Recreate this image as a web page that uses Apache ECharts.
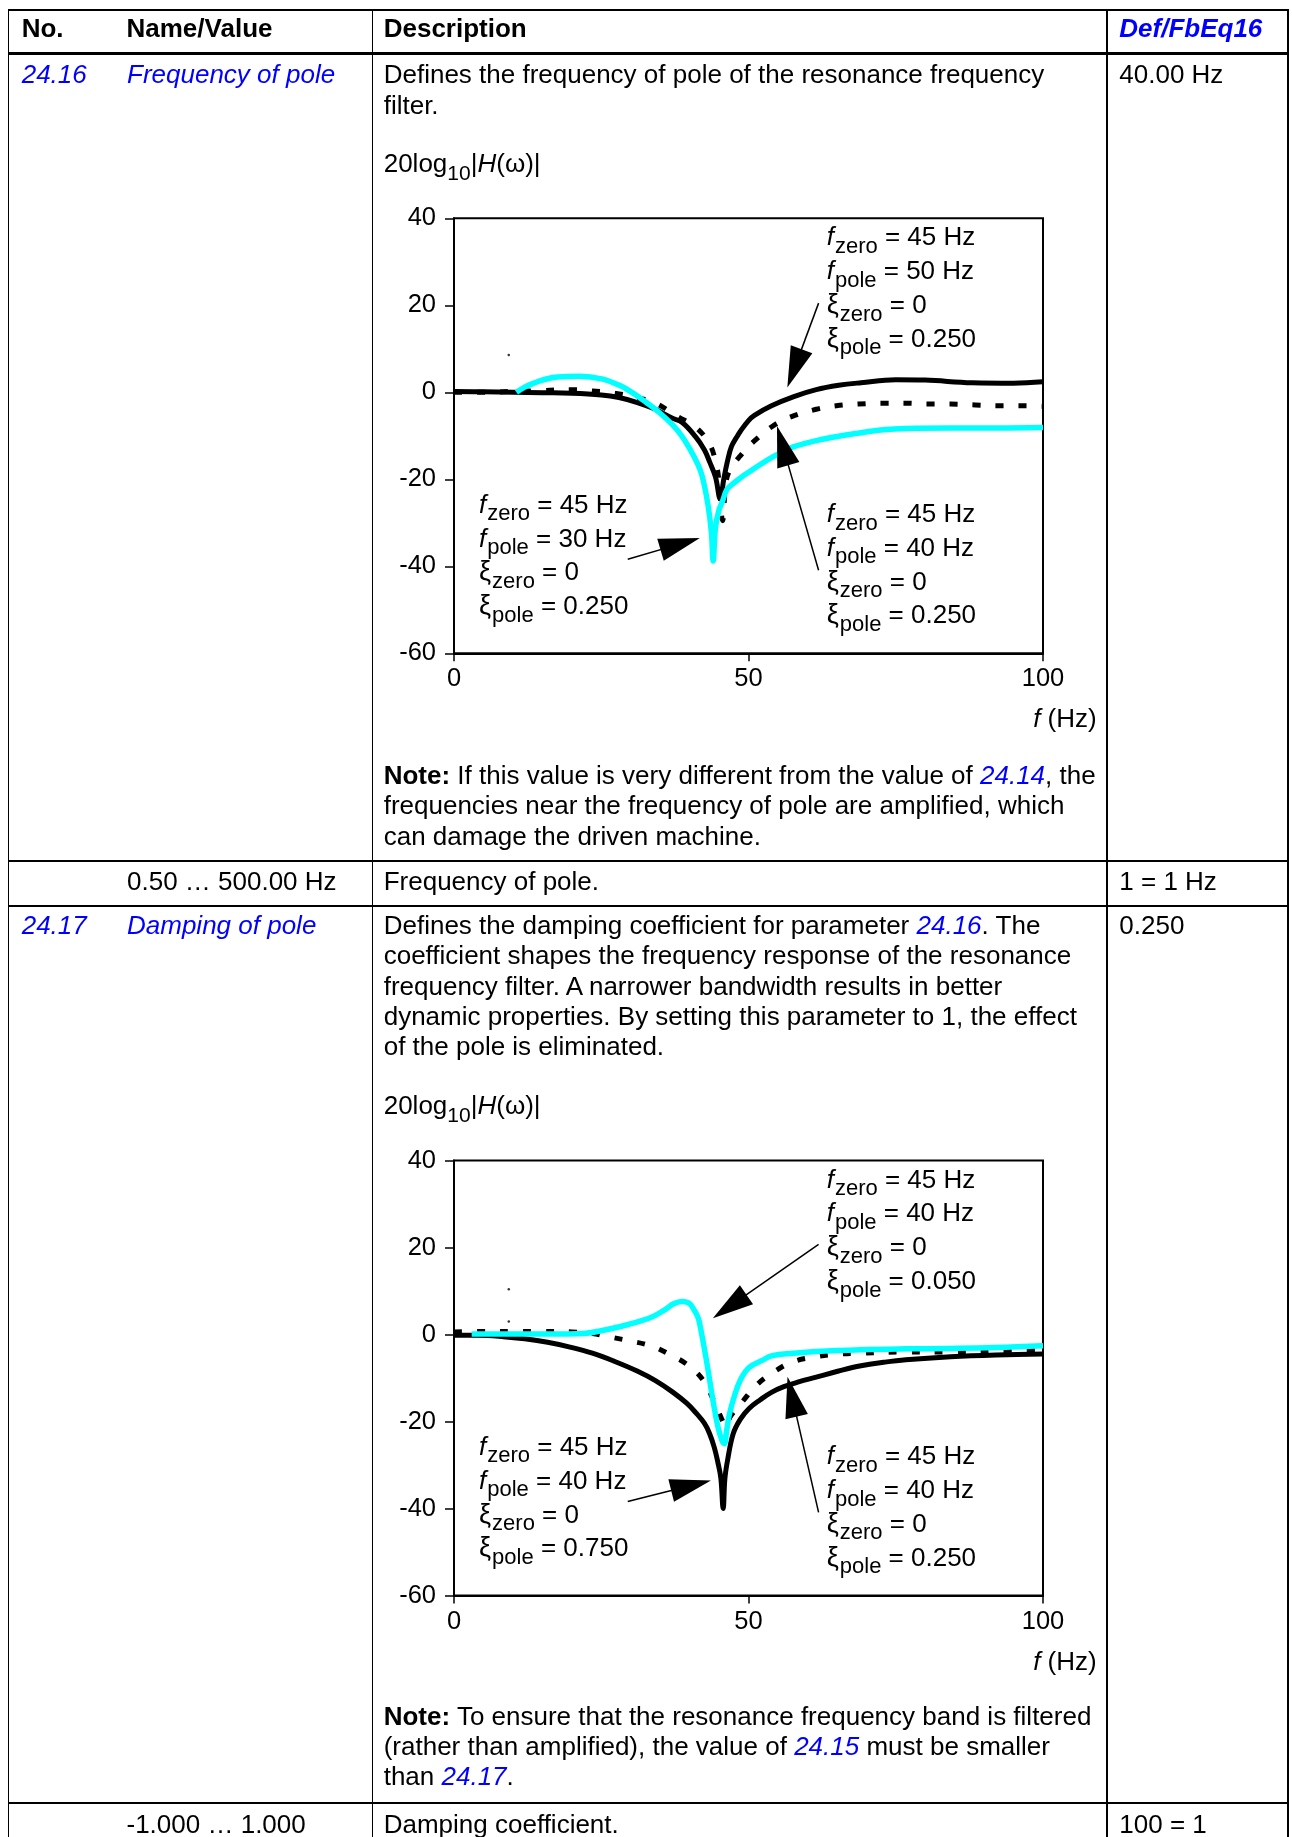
<!DOCTYPE html>
<html>
<head>
<meta charset="utf-8">
<script src="https://cdn.jsdelivr.net/npm/echarts@6/dist/echarts.min.js"></script>
<style>
  html, body { margin: 0; padding: 0; background: #fff; }
  #page { position: relative; width: 1292px; height: 1837px; overflow: hidden;
          font-family: "Liberation Sans", Arial, sans-serif; color: #000; }
  #chart { position: absolute; left: 0; top: 0; width: 1292px; height: 1837px; }
  .ln { position: absolute; white-space: nowrap; font-size: 26px; line-height: 30px; z-index: 2; }
  .rule { position: absolute; background: #000; z-index: 3; }
  .lk { color: #0000ff; font-style: italic; }
  .xi { font-size: 27px; }
  sub { font-size: 21px; line-height: 0; vertical-align: -7.5px; }
  .an sub { font-size: 22px; padding-left: 1px; }
</style>
</head>
<body>
<div id="page"><div id="chart"></div></div>
<script>
// ---- chart 1 : f_zero = 45 Hz, different pole frequencies (x = Hz, y = dB)
const pole50 = [[0,0.2],[5,0.1],[10,0],[15,-0.1],[20,-0.2],[25,-0.6],[28,-1.2],[31,-2.3],[34,-3.8],
  [37,-5.9],[38.7,-6.9],[41,-10.2],[42.5,-13.2],[43.4,-16],[44.4,-19.5],[45.2,-24.5],[45.8,-20],
  [46.4,-16],[47.1,-12.5],[48,-10.3],[48.6,-9],[50,-6.5],[51,-5.3],[53.9,-3.1],[57.7,-1.0],
  [61.5,0.6],[65.3,1.6],[69.1,2.2],[75,2.9],[80,2.8],[88,2.2],[95,2.1],[100,2.4]];
const pole40 = [[0,0],[5,0],[10,0.2],[15,0.4],[20,0.6],[23.5,0.3],[27.3,-0.2],[31,-1.2],[34.2,-2.5],
  [38,-5.6],[41,-8],[43.3,-11.7],[44.4,-15.8],[45,-20.5],[45.6,-29.5],[46.2,-20.5],[47,-17.5],
  [48.6,-14.6],[50.9,-11.3],[54.3,-7.6],[57.3,-5.6],[61.5,-3.9],[64.9,-3.1],[68.7,-2.7],
  [72.9,-2.5],[76.7,-2.5],[80.5,-2.7],[84.3,-2.7],[88.5,-2.9],[92.3,-3.1],[96,-3.1],[100,-3.2]];
const pole30 = [[10.6,0],[12,1.2],[13.7,2.2],[15.5,3.0],[17.5,3.5],[21.3,3.7],[25.1,3.1],[28.1,1.6],
  [30.4,-0.2],[32.6,-2.3],[34.9,-4.7],[37.2,-7.6],[38.7,-10.1],[40.2,-13.4],[41.2,-16],[42.1,-19.1],
  [43.1,-25.7],[43.7,-32.2],[44.0,-38.8],[44.4,-31],[45.0,-27],[45.6,-25],[46.3,-22.4],[47.1,-21.3],
  [48.5,-19.8],[50.1,-18.3],[52,-16.6],[53.9,-15],[55.8,-13.7],[57.7,-12.5],[61.5,-11.1],
  [65.3,-10.1],[69.1,-9.3],[72.9,-8.6],[76.7,-8.3],[84.3,-8.2],[92,-8.2],[100,-8.1]];
const specks1 = [[9.3,8.6]];
const arrows1 = [
  { tail: [61.9, 20.5], head: [57.8, 5.5] },
  { tail: [29.5, -38.4], head: [38.4, -34.85] },
  { tail: [61.9, -40.9], head: [55.8, -12.25] }
];

// ---- chart 2 : f_zero = 45 Hz, f_pole = 40 Hz, different pole damping
const damp075 = [[0,-0.2],[4,-0.2],[8.4,-0.5],[12,-1.0],[15.9,-1.8],[19.7,-2.9],[23.5,-4.3],[27.3,-6.2],
  [31.1,-8.4],[34.2,-10.6],[37.2,-13.3],[39.5,-15.8],[41,-17.9],[42.5,-20.4],[43.4,-22.8],[44.2,-26],
  [44.8,-29.4],[45.3,-33],[45.7,-40],[46.0,-33],[46.5,-28.5],[47.4,-22.8],[48.6,-19.5],[50.1,-17],
  [52,-15],[53.9,-13.3],[56,-12],[58.5,-10.9],[61.5,-9.8],[65.3,-8.4],[69.1,-7.2],[72.9,-6.4],
  [76.7,-5.8],[84.3,-5.1],[92,-4.7],[100,-4.5]];
const damp025 = [[0,0.6],[5,0.7],[10,0.7],[15,0.7],[20,0.6],[23.5,0.2],[25.8,-0.4],[29.6,-1.4],
  [33.4,-2.6],[36.5,-4.5],[39.9,-7.2],[42.5,-10.9],[44.4,-16.2],[45.6,-19.9],[46,-21.2],[47,-18.7],
  [49,-15.4],[51.3,-11.7],[54.3,-8.6],[57.7,-6.2],[61.5,-5.1],[65.3,-4.5],[69.1,-4.3],[76.7,-4.0],
  [84.3,-4.0],[92,-3.7],[100,-3.4]];
const damp005 = [[3,0.1],[8.4,0.1],[15.9,0.1],[22,0.25],[25.8,1.1],[29.6,2.3],[33.4,3.9],[35.7,5.6],
  [37.2,7.0],[38.7,7.6],[39.9,7.2],[40.6,6.0],[41.4,4.0],[41.8,1.9],[42.9,-6.3],[44,-15.4],
  [44.8,-21.2],[45.5,-24.4],[45.9,-25.1],[46.3,-22],[46.7,-18.7],[47.5,-14.6],[48.6,-10.5],
  [50.1,-7.6],[52.4,-5.9],[53.9,-4.9],[57.7,-4.3],[61.5,-3.9],[69.1,-3.5],[76.7,-3.3],
  [84.3,-3.2],[92,-3.0],[100,-2.6]];
const specks2 = [[9.3,10.4],[9.3,3.0]];
const arrows2 = [
  { tail: [61.9, 20.7], head: [46.8, 6.45] },
  { tail: [29.5, -38.4], head: [40.25, -34.7] },
  { tail: [61.9, -40.9], head: [57.4, -14.3] }
];

const xRange = [0, 100, 50];
const yRange = [-60, 40, 20];

// ---- page text ----------------------------------------------------------
const FONT = 'Liberation Sans';
const page = document.getElementById('page');
const BASE = 24.0;       // line box top -> baseline (26px font, 30px line)
const DY = 942.2;        // vertical offset of chart 2 block against chart 1

function addLine(x, baseline, html, right, cls) {
  const d = document.createElement('div');
  d.className = 'ln' + (cls ? ' ' + cls : '');
  d.innerHTML = html;
  d.style.top = (baseline - BASE) + 'px';
  if (right) d.style.right = (1292 - x) + 'px';
  else d.style.left = x + 'px';
  page.appendChild(d);
}
function rule(x, y, w, h) {
  const d = document.createElement('div');
  d.className = 'rule';
  d.style.left = x + 'px'; d.style.top = y + 'px';
  d.style.width = w + 'px'; d.style.height = h + 'px';
  page.appendChild(d);
}
const lk = t => '<span class="lk">' + t + '</span>';

// table rules
rule(7.5, 9, 1281, 2);
rule(7.5, 52, 1281, 2.5);
rule(7.5, 859.8, 1281, 2);
rule(7.5, 905, 1281, 2);
rule(7.5, 1801.8, 1281, 2);
[7.5, 371.5, 1106.2, 1287].forEach(x => rule(x, 9, 1.7, 1830));

// header
addLine(21.7, 37.3, '<b>No.</b>');
addLine(126.5, 37.3, '<b>Name/Value</b>');
addLine(383.7, 37.3, '<b>Description</b>');
addLine(1119.3, 37.3, '<b class="lk">Def/FbEq16</b>');

// 24.16
addLine(21.7, 83.3, lk('24.16'));
addLine(127, 83.3, lk('Frequency of pole'));
addLine(1119.3, 83.3, '40.00 Hz');
addLine(383.7, 83.3, 'Defines the frequency of pole of the resonance frequency');
addLine(383.7, 113.7, 'filter.');
addLine(383.7, 784, '<b>Note:</b> If this value is very different from the value of ' + lk('24.14') + ', the');
addLine(383.7, 814.3, 'frequencies near the frequency of pole are amplified, which');
addLine(383.7, 844.6, 'can damage the driven machine.');

addLine(127, 889.5, '0.50 … 500.00 Hz');
addLine(383.7, 889.5, 'Frequency of pole.');
addLine(1119.3, 889.5, '1 = 1 Hz');

// 24.17
addLine(21.7, 934, lk('24.17'));
addLine(127, 934, lk('Damping of pole'));
addLine(1119.3, 934, '0.250');
addLine(383.7, 934, 'Defines the damping coefficient for parameter ' + lk('24.16') + '. The');
addLine(383.7, 964.3, 'coefficient shapes the frequency response of the resonance');
addLine(383.7, 994.6, 'frequency filter. A narrower bandwidth results in better');
addLine(383.7, 1024.9, 'dynamic properties. By setting this parameter to 1, the effect');
addLine(383.7, 1055.2, 'of the pole is eliminated.');
addLine(383.7, 1724.5, '<b>Note:</b> To ensure that the resonance frequency band is filtered');
addLine(383.7, 1754.8, '(rather than amplified), the value of ' + lk('24.15') + ' must be smaller');
addLine(383.7, 1785.1, 'than ' + lk('24.17') + '.');

addLine(126.5, 1832.7, '-1.000 … 1.000');
addLine(383.7, 1832.7, 'Damping coefficient.');
addLine(1119.3, 1832.7, '100 = 1');

// chart captions and annotations
const fz = v => '<i>f</i><sub>zero</sub> = ' + v;
const fp = v => '<i>f</i><sub>pole</sub> = ' + v;
const xz = v => '<span class="xi">ξ</span><sub>zero</sub> = ' + v;
const xp = v => '<span class="xi">ξ</span><sub>pole</sub> = ' + v;
const notes = [
  [ // chart 1
    [826.7, 245.4, [fz('45 Hz'), fp('50 Hz'), xz('0'), xp('0.250')]],
    [479, 512.7, [fz('45 Hz'), fp('30 Hz'), xz('0'), xp('0.250')]],
    [826.7, 522, [fz('45 Hz'), fp('40 Hz'), xz('0'), xp('0.250')]]
  ],
  [ // chart 2
    [826.7, 245.4, [fz('45 Hz'), fp('40 Hz'), xz('0'), xp('0.050')]],
    [479, 512.7, [fz('45 Hz'), fp('40 Hz'), xz('0'), xp('0.750')]],
    [826.7, 522, [fz('45 Hz'), fp('40 Hz'), xz('0'), xp('0.250')]]
  ]
];
notes.forEach((blocks, c) => {
  const off = c * DY;
  addLine(383.7, 171.7 + off, '20log<sub>10</sub>|<i>H</i>(ω)|');
  addLine(1096.7, 727.3 + off, '<i>f</i> (Hz)', true);
  blocks.forEach(([x, y, lines]) => {
    lines.forEach((t, i) => addLine(x, y + off + i * 33.8, t, false, 'an'));
  });
});

// ---- charts ---------------------------------------------------------------
const chart = echarts.init(document.getElementById('chart'), null, { renderer: 'canvas' });
const gridTops = [218.3, 1160.5];

function lineSeries(idx, data, color, width, dash, z) {
  return {
    type: 'line', xAxisIndex: idx, yAxisIndex: idx, data: data,
    showSymbol: false, symbol: 'none', smooth: 0.4, silent: true, z: z,
    lineStyle: { color: color, width: width, type: dash || 'solid', cap: 'butt', join: 'round' }
  };
}
function extrasSeries(idx, specks, arrows) {
  return {
    type: 'scatter', xAxisIndex: idx, yAxisIndex: idx, data: specks,
    symbolSize: 2.5, itemStyle: { color: '#000' }, silent: true, z: 6,
    markLine: {
      silent: true, animation: false, label: { show: false },
      lineStyle: { color: '#000', width: 1.5, type: 'solid' },
      data: arrows.map(a => [
        { coord: a.tail, symbol: 'none' },
        { coord: a.head, symbol: 'triangle', symbolSize: [23, 41] }
      ])
    }
  };
}

chart.setOption({
  animation: false,
  grid: gridTops.map(t => ({
    left: 454, top: t, width: 589, height: 435,
    show: true, borderColor: '#000', borderWidth: 2, backgroundColor: 'transparent'
  })),
  xAxis: gridTops.map((t, i) => ({
    gridIndex: i, type: 'value', min: xRange[0], max: xRange[1], interval: xRange[2],
    axisLine: { show: true, onZero: false, lineStyle: { color: '#000', width: 2 } },
    axisTick: { show: true, length: 8, lineStyle: { color: '#000', width: 1.5 } },
    splitLine: { show: false },
    axisLabel: { color: '#000', fontSize: 25.5, fontFamily: FONT, margin: 13 }
  })),
  yAxis: gridTops.map((t, i) => ({
    gridIndex: i, type: 'value', min: yRange[0], max: yRange[1], interval: yRange[2],
    axisLine: { show: true, onZero: false, lineStyle: { color: '#000', width: 2 } },
    axisTick: { show: true, length: 9, lineStyle: { color: '#000', width: 1.5 } },
    splitLine: { show: false },
    axisLabel: { color: '#000', fontSize: 25.5, fontFamily: FONT, margin: 18 }
  })),
  series: [
    lineSeries(0, pole40, '#000', 5, [8, 15], 2),
    lineSeries(0, pole50, '#000', 5, 'solid', 3),
    lineSeries(0, pole30, '#00ffff', 5.5, 'solid', 4),
    extrasSeries(0, specks1, arrows1),
    lineSeries(1, damp025, '#000', 5, [8, 15], 2),
    lineSeries(1, damp075, '#000', 5, 'solid', 3),
    lineSeries(1, damp005, '#00ffff', 5.5, 'solid', 4),
    extrasSeries(1, specks2, arrows2)
  ]
});
</script>
</body>
</html>
